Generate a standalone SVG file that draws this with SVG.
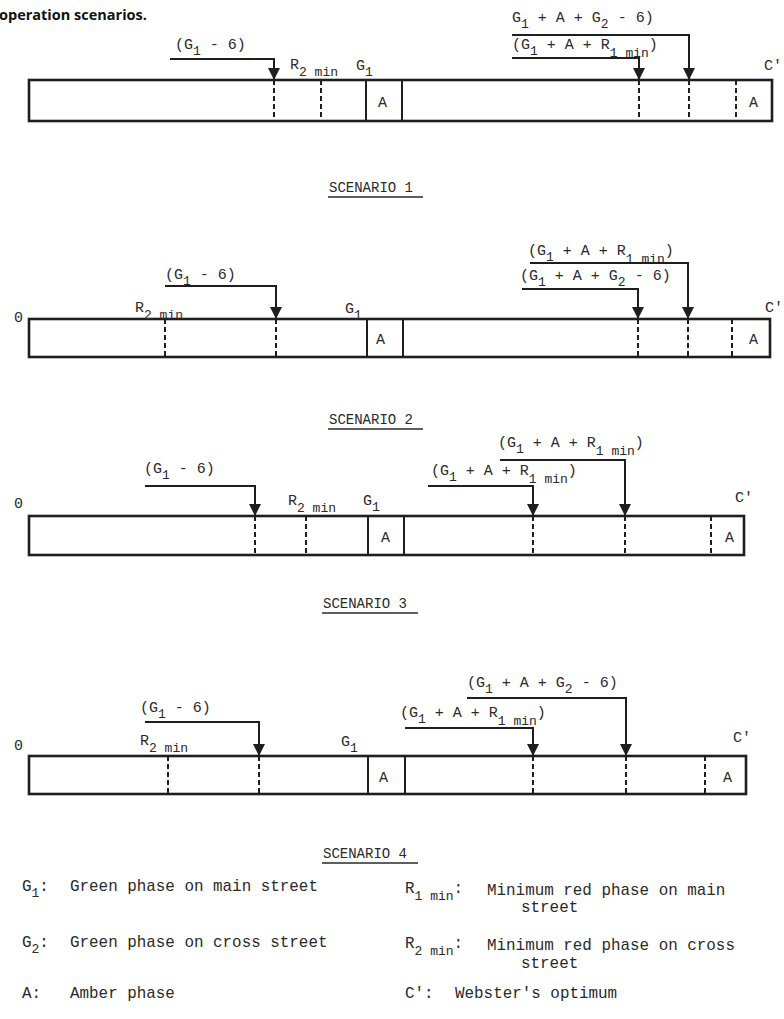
<svg xmlns="http://www.w3.org/2000/svg" width="784" height="1019" viewBox="0 0 784 1019">
<style>
  .bar { fill: none; stroke: #1e1e1e; stroke-width: 2.6; }
  .sol { stroke: #1e1e1e; stroke-width: 2; }
  .dash { stroke: #1e1e1e; stroke-width: 2; stroke-dasharray: 5 3; }
  .arr { fill: none; stroke: #1e1e1e; stroke-width: 2; marker-end: url(#ah); }
  .t { font-family: "Liberation Mono", "DejaVu Sans Mono", monospace; font-size: 15px; fill: #2a2a2a; }
  .s { font-size: 13px; }
  .lg { font-family: "Liberation Mono", "DejaVu Sans Mono", monospace; font-size: 15.9px; fill: #2a2a2a; }
  .sc { font-family: "Liberation Mono", "DejaVu Sans Mono", monospace; font-size: 14px; fill: #2a2a2a; }
  .ul { stroke: #2a2a2a; stroke-width: 1.3; }
  .title { font-family: "Open Sans", "Liberation Sans", sans-serif; font-weight: bold; font-size: 14.5px; fill: #111; }
</style>
<defs>
  <marker id="ah" viewBox="0 0 10 10" refX="10" refY="5" markerUnits="userSpaceOnUse" markerWidth="13" markerHeight="12" orient="auto">
    <path d="M0,0 L10,5 L0,10 z" fill="#1e1e1e"/>
  </marker>
</defs>
<rect width="784" height="1019" fill="#ffffff"/>
<text class="title" x="-1" y="20">operation scenarios.</text>

<!-- Scenario 1 -->
<g id="scenario1">
  <rect class="bar" x="29" y="80" width="743" height="41"/>
  <line class="sol" x1="366" y1="80" x2="366" y2="121"/>
  <line class="sol" x1="402" y1="80" x2="402" y2="121"/>
  <line class="dash" x1="274" y1="80" x2="274" y2="121"/>
  <line class="dash" x1="321" y1="80" x2="321" y2="121"/>
  <line class="dash" x1="639" y1="80" x2="639" y2="121"/>
  <line class="dash" x1="689" y1="80" x2="689" y2="121"/>
  <line class="dash" x1="736" y1="80" x2="736" y2="121"/>
  <text class="t" x="378" y="107">A</text>
  <text class="t" x="749" y="107">A</text>
  <text class="t" x="175" y="49">(G<tspan class="s" dy="6">1</tspan><tspan dy="-6">  - 6)</tspan></text>
  <text class="t" x="290" y="69">R<tspan class="s" dy="7">2 min</tspan></text>
  <text class="t" x="356" y="70">G<tspan class="s" dy="6">1</tspan></text>
  <text class="t" x="512" y="22">G<tspan class="s" dy="6">1</tspan><tspan dy="-6"> + A + G</tspan><tspan class="s" dy="6">2</tspan><tspan dy="-6"> - 6)</tspan></text>
  <text class="t" x="512" y="49">(G<tspan class="s" dy="6">1</tspan><tspan dy="-6"> + A + R</tspan><tspan class="s" dy="8">1 min</tspan><tspan dy="-8">)</tspan></text>
  <text class="t" x="764" y="70">C'</text>
</g>
<text class="sc" x="329" y="192">SCENARIO 1</text>
<line class="ul" x1="328" y1="197" x2="423" y2="197"/>

<!-- Scenario 2 -->
<g id="scenario2">
  <rect class="bar" x="29" y="319" width="741" height="38"/>
  <line class="sol" x1="367" y1="319" x2="367" y2="357"/>
  <line class="sol" x1="403" y1="319" x2="403" y2="357"/>
  <line class="dash" x1="165" y1="319" x2="165" y2="357"/>
  <line class="dash" x1="276" y1="319" x2="276" y2="357"/>
  <line class="dash" x1="638" y1="319" x2="638" y2="357"/>
  <line class="dash" x1="688" y1="319" x2="688" y2="357"/>
  <line class="dash" x1="732" y1="319" x2="732" y2="357"/>
  <text class="t" x="376" y="344">A</text>
  <text class="t" x="749" y="344">A</text>
  <text class="t" x="14" y="322">0</text>
  <text class="t" x="165" y="279">(G<tspan class="s" dy="6">1</tspan><tspan dy="-6">  - 6)</tspan></text>
  <text class="t" x="135" y="312">R<tspan class="s" dy="7">2 min</tspan></text>
  <text class="t" x="345" y="313">G<tspan class="s" dy="6">1</tspan></text>
  <text class="t" x="528" y="255">(G<tspan class="s" dy="6">1</tspan><tspan dy="-6"> + A + R</tspan><tspan class="s" dy="8">1 min</tspan><tspan dy="-8">)</tspan></text>
  <text class="t" x="520" y="280">(G<tspan class="s" dy="6">1</tspan><tspan dy="-6"> + A + G</tspan><tspan class="s" dy="6">2</tspan><tspan dy="-6"> - 6)</tspan></text>
  <text class="t" x="765" y="312">C'</text>
</g>
<text class="sc" x="329" y="424">SCENARIO 2</text>
<line class="ul" x1="328" y1="429" x2="423" y2="429"/>

<!-- Scenario 3 -->
<g id="scenario3">
  <rect class="bar" x="29" y="516" width="715" height="39"/>
  <line class="sol" x1="368" y1="516" x2="368" y2="555"/>
  <line class="sol" x1="404" y1="516" x2="404" y2="555"/>
  <line class="dash" x1="255" y1="516" x2="255" y2="555"/>
  <line class="dash" x1="306" y1="516" x2="306" y2="555"/>
  <line class="dash" x1="533" y1="516" x2="533" y2="555"/>
  <line class="dash" x1="625" y1="516" x2="625" y2="555"/>
  <line class="dash" x1="711" y1="516" x2="711" y2="555"/>
  <text class="t" x="381" y="542">A</text>
  <text class="t" x="725" y="542">A</text>
  <text class="t" x="14" y="508">0</text>
  <text class="t" x="144" y="473">(G<tspan class="s" dy="6">1</tspan><tspan dy="-6"> - 6)</tspan></text>
  <text class="t" x="288" y="505">R<tspan class="s" dy="7">2 min</tspan></text>
  <text class="t" x="363" y="505">G<tspan class="s" dy="6">1</tspan></text>
  <text class="t" x="498" y="447">(G<tspan class="s" dy="6">1</tspan><tspan dy="-6"> + A + R</tspan><tspan class="s" dy="8">1 min</tspan><tspan dy="-8">)</tspan></text>
  <text class="t" x="431" y="475">(G<tspan class="s" dy="6">1</tspan><tspan dy="-6"> + A +  R</tspan><tspan class="s" dy="8">1 min</tspan><tspan dy="-8">)</tspan></text>
  <text class="t" x="735" y="502">C'</text>
</g>
<text class="sc" x="323" y="608">SCENARIO 3</text>
<line class="ul" x1="322" y1="613" x2="418" y2="613"/>

<!-- Scenario 4 -->
<g id="scenario4">
  <rect class="bar" x="29" y="756" width="717" height="38"/>
  <line class="sol" x1="368" y1="756" x2="368" y2="794"/>
  <line class="sol" x1="405" y1="756" x2="405" y2="794"/>
  <line class="dash" x1="168" y1="756" x2="168" y2="794"/>
  <line class="dash" x1="259" y1="756" x2="259" y2="794"/>
  <line class="dash" x1="533" y1="756" x2="533" y2="794"/>
  <line class="dash" x1="626" y1="756" x2="626" y2="794"/>
  <line class="dash" x1="705" y1="756" x2="705" y2="794"/>
  <text class="t" x="379" y="782">A</text>
  <text class="t" x="723" y="782">A</text>
  <text class="t" x="14" y="750">0</text>
  <text class="t" x="140" y="712">(G<tspan class="s" dy="6">1</tspan><tspan dy="-6">  - 6)</tspan></text>
  <text class="t" x="140" y="745">R<tspan class="s" dy="7">2 min</tspan></text>
  <text class="t" x="341" y="746">G<tspan class="s" dy="6">1</tspan></text>
  <text class="t" x="467" y="687">(G<tspan class="s" dy="6">1</tspan><tspan dy="-6"> + A + G</tspan><tspan class="s" dy="6">2</tspan><tspan dy="-6"> - 6)</tspan></text>
  <text class="t" x="400" y="717">(G<tspan class="s" dy="6">1</tspan><tspan dy="-6"> + A + R</tspan><tspan class="s" dy="8">1 min</tspan><tspan dy="-8">)</tspan></text>
  <text class="t" x="733" y="742">C'</text>
</g>
<text class="sc" x="323" y="858">SCENARIO 4</text>
<line class="ul" x1="322" y1="863" x2="418" y2="863"/>

<!-- Connectors -->
<g id="connectors">
  <polyline class="arr" points="170,59 274,59 274,80"/>
  <polyline class="arr" points="512,35 689,35 689,80"/>
  <polyline class="arr" points="512,58 639,58 639,80"/>
  <polyline class="arr" points="165,286 276,286 276,319"/>
  <polyline class="arr" points="530,263 688,263 688,319"/>
  <polyline class="arr" points="522,289 638,289 638,319"/>
  <polyline class="arr" points="145,486 255,486 255,516"/>
  <polyline class="arr" points="428,486 533,486 533,516"/>
  <polyline class="arr" points="500,460 625,460 625,516"/>
  <polyline class="arr" points="145,722 259,722 259,756"/>
  <polyline class="arr" points="405,728 533,728 533,756"/>
  <polyline class="arr" points="467,698 626,698 626,756"/>
</g>

<!-- Legend -->
<g id="legend">
  <text class="lg" x="22" y="891">G<tspan class="s" dy="6">1</tspan><tspan dy="-6">:</tspan></text>
  <text class="lg" x="70" y="891">Green phase on main street</text>
  <text class="lg" x="22" y="947">G<tspan class="s" dy="6">2</tspan><tspan dy="-6">:</tspan></text>
  <text class="lg" x="70" y="947">Green phase on cross street</text>
  <text class="lg" x="22" y="998">A:</text>
  <text class="lg" x="70" y="998">Amber phase</text>
  <text class="lg" x="405" y="893">R<tspan class="s" dy="7">1 min</tspan><tspan dy="-7">:</tspan></text>
  <text class="lg" x="487" y="895">Minimum red phase on main</text>
  <text class="lg" x="521" y="912">street</text>
  <text class="lg" x="405" y="948">R<tspan class="s" dy="7">2 min</tspan><tspan dy="-7">:</tspan></text>
  <text class="lg" x="487" y="950">Minimum red phase on cross</text>
  <text class="lg" x="521" y="968">street</text>
  <text class="lg" x="405" y="998">C':</text>
  <text class="lg" x="455" y="998">Webster's optimum</text>
</g>
</svg>
